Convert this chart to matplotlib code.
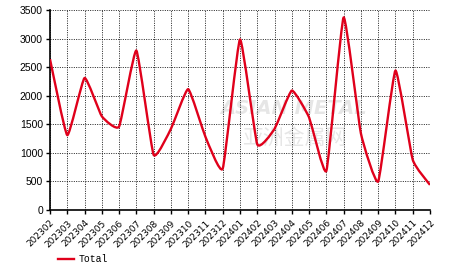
import matplotlib.pyplot as plt
from matplotlib.path import Path
from matplotlib.patches import PathPatch
from matplotlib.lines import Line2D

months = ["202302", "202303", "202304", "202305", "202306", "202307", "202308",
          "202309", "202310", "202311", "202312", "202401", "202402", "202403",
          "202404", "202405", "202406", "202407", "202408", "202409", "202410",
          "202411", "202412"]
total = [2640, 1310, 2310, 1640, 1460, 2790, 965, 1420, 2115, 1280, 725,
         2985, 1150, 1420, 2090, 1620, 685, 3370, 1340, 500, 2440, 880, 440]
yticks = [0, 500, 1000, 1500, 2000, 2500, 3000, 3500]

RED = "#e0001b"


def smooth_path(xs, ys, t=0.07):
    # cardinal spline through the points, as cubic bezier segments
    n = len(xs)
    verts = [(xs[0], ys[0])]
    codes = [Path.MOVETO]
    for i in range(n - 1):
        x0, y0 = xs[max(i - 1, 0)], ys[max(i - 1, 0)]
        x1, y1 = xs[i], ys[i]
        x2, y2 = xs[i + 1], ys[i + 1]
        x3, y3 = xs[min(i + 2, n - 1)], ys[min(i + 2, n - 1)]
        c1 = (x1 + (x2 - x0) * t, y1 + (y2 - y0) * t)
        c2 = (x2 - (x3 - x1) * t, y2 - (y3 - y1) * t)
        verts += [c1, c2, (x2, y2)]
        codes += [Path.CURVE4] * 3
    return Path(verts, codes)


fig = plt.figure(figsize=(4.66, 2.72), dpi=100)
ax = fig.add_axes([50 / 466, 62 / 272, 380 / 466, 200 / 272])

x = list(range(len(months)))
ax.add_patch(PathPatch(smooth_path(x, total), facecolor="none", edgecolor=RED,
                       linewidth=1.7, joinstyle="round", zorder=3))

# faint watermark
ax.text(0.642, 0.51, "ASIAN METAL", transform=ax.transAxes, ha="center", va="center",
        fontsize=14, fontweight="bold", style="italic", color="#e6e6e6", zorder=0)
ax.text(0.642, 0.36, "亚洲金属网", transform=ax.transAxes, ha="center", va="center",
        fontsize=15, color="#e6e6e6", zorder=0,
        family=["Noto Sans CJK SC", "DejaVu Sans"])

ax.set_xlim(0, len(months) - 1)
ax.set_ylim(0, 3500)
ax.set_xticks(x)
ax.set_xticklabels(months, rotation=45, ha="right", rotation_mode="anchor",
                   fontsize=6.5)
ax.set_yticks(yticks)
ax.set_yticklabels([str(v) for v in yticks], fontsize=7.5, family="Liberation Sans")
ax.tick_params(axis="both", length=3, width=1, color="black", pad=2)
ax.tick_params(axis="x", pad=3)

ax.grid(True, color="black", linestyle=(0, (1.2, 1.6)), linewidth=0.6)
ax.set_axisbelow(True)
for s in ["top", "right"]:
    ax.spines[s].set_visible(False)
for s in ["left", "bottom"]:
    ax.spines[s].set_linewidth(1.2)

handle = Line2D([], [], color=RED, linewidth=1.7)
fig.legend([handle], ["Total"], loc="center left", bbox_to_anchor=(58 / 466, 13 / 272),
           frameon=False, borderpad=0, borderaxespad=0, handlelength=1.6,
           handletextpad=0.5, prop={"family": "Liberation Mono", "size": 7})

fig.savefig("out.png", dpi=100)
